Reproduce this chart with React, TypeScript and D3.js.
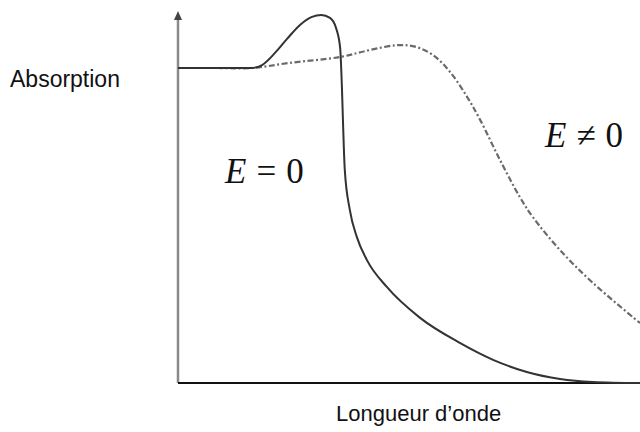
import React from "react";
import * as d3 from "d3";

// Arbitrary wavelength units (0..100) and absorption units (0..100)
const solidX = [0, 8, 16, 18.2, 21, 23.6, 26.4, 29, 31, 32.9, 34.2, 35.1, 35.5, 35.7, 36.1, 37.2, 38.7, 40.9, 45.2, 52.4, 61, 68.2, 75.5, 82.7, 89.8, 100];
const solidY = [85.6, 85.6, 85.6, 86.4, 89.7, 93.5, 97.3, 99.5, 100, 99.2, 96.5, 91, 79.6, 71.5, 57.9, 47, 39.7, 33.4, 26.1, 17.7, 10.9, 6.3, 3, 1.1, 0.3, 0];
const dashX = [0, 8, 16, 24.2, 35.1, 41.6, 47.4, 51.3, 55.2, 58.9, 62.6, 65.4, 69.7, 74, 76.8, 82.7, 89.8, 100];
const dashY = [85.6, 85.6, 85.6, 87, 88.6, 90.5, 91.8, 91.4, 89.1, 84.5, 77.7, 71.5, 60.6, 50.5, 45.1, 36.1, 27.2, 16.3];

const yLabel = "Absorption";
const xLabel = "Longueur d’onde";

export default function App() {
  const W = 640, H = 432;
  const x = d3.scaleLinear().domain([0, 100]).range([178, 640]);
  const y = d3.scaleLinear().domain([0, 100]).range([383, 15]);
  const lineSolid = d3.line<[number, number]>().x(d => x(d[0])).y(d => y(d[1])).curve(d3.curveMonotoneX);
  const lineDash = d3.line<[number, number]>().x(d => x(d[0])).y(d => y(d[1])).curve(d3.curveCatmullRom.alpha(0.5));
  const solid = solidX.map((v, i) => [v, solidY[i]] as [number, number]);
  const dash = dashX.map((v, i) => [v, dashY[i]] as [number, number]);
  const x0 = x(0), y0 = y(0);
  return (
    <svg width={W} height={H} style={{ position: "absolute", left: 0, top: 0, background: "#fff" }}>
      <rect width={W} height={H} fill="#fff" />
      {/* y axis with arrow */}
      <line x1={x0} y1={y0} x2={x0} y2={18} stroke="#8a8a8a" strokeWidth={2.5} />
      <path d={`M${x0 - 4},${20} L${x0},${11} L${x0 + 4},${20} Z`} fill="#444" />
      {/* x axis */}
      <line x1={x0} y1={y0} x2={640} y2={y0} stroke="#111" strokeWidth={2} />
      <path d={lineDash(dash) || ""} fill="none" stroke="#6a6a6a" strokeWidth={2.2} strokeDasharray="6,2.5,2,2.5" />
      <path d={lineSolid(solid) || ""} fill="none" stroke="#333" strokeWidth={2} />
      <text x={10} y={87} fontFamily="Liberation Sans, Arial, sans-serif" fontSize={23} fill="#111">{yLabel}</text>
      <text x={336} y={421} fontFamily="Liberation Sans, Arial, sans-serif" fontSize={22} fill="#111">{xLabel}</text>
      <text x={225} y={183} fontFamily="Liberation Serif, Times New Roman, serif" fontSize={35} fill="#111">
        <tspan fontStyle="italic">E</tspan>
        <tspan dx={10}>=</tspan>
        <tspan dx={10}>0</tspan>
      </text>
      <text x={545} y={147} fontFamily="Liberation Serif, Times New Roman, serif" fontSize={35} fill="#111">
        <tspan fontStyle="italic">E</tspan>
        <tspan dx={10}>≠</tspan>
        <tspan dx={10}>0</tspan>
      </text>
    </svg>
  );
}
